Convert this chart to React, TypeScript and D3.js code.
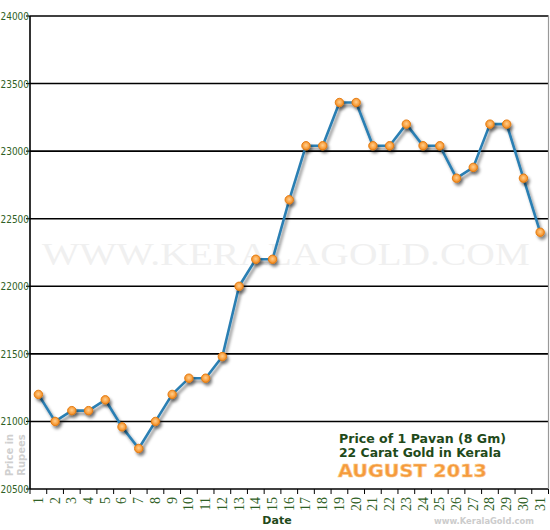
import React from "react";
import * as d3 from "d3";

const days: number[] = Array.from({ length: 31 }, (_, i) => i + 1);
const prices: number[] = [
  21200, 21000, 21080, 21080, 21160, 20960, 20800, 21000, 21200, 21320,
  21320, 21480, 22000, 22200, 22200, 22640, 23040, 23040, 23360, 23360,
  23040, 23040, 23200, 23040, 23040, 22800, 22880, 23200, 23200, 22800,
  22400,
];
const yTicks: number[] = [20500, 21000, 21500, 22000, 22500, 23000, 23500, 24000];
const titleLines: string[] = ["Price of 1 Pavan (8 Gm)", "22 Carat Gold in Kerala"];
const monthLabel = "AUGUST 2013";
const xTitle = "Date";
const yTitle: string[] = ["Price in", "Rupees"];
const watermark = "WWW.KERALAGOLD.COM";
const credit = "www.KeralaGold.com";

const W = 550;
const H = 530;
const left = 30;
const right = 548.5;
const top = 16;
const bottom = 489;

export default function App() {
  const x = d3.scaleBand<number>().domain(days).range([left, right]).padding(0);
  const y = d3.scaleLinear().domain([20500, 24000]).range([bottom, top]);
  const cx = (d: number) => (x(d) as number) + x.bandwidth() / 2;
  const line = d3
    .line<number>()
    .x((_, i) => cx(days[i]))
    .y((v) => y(v));
  const green = "#2f5f25";
  const boundaries = days.map((d) => x(d) as number).concat([right]);

  return (
    <svg
      width={W}
      height={H}
      style={{ position: "fixed", left: 0, top: 0, background: "#fff" }}
    >
      <defs>
        <filter id="sh" x="-10%" y="-10%" width="120%" height="130%">
          <feDropShadow dx="2" dy="3" stdDeviation="1.6" floodColor="#000" floodOpacity="0.45" />
        </filter>
        <radialGradient id="dot" cx="50%" cy="45%" r="60%">
          <stop offset="0%" stopColor="#ffd090" />
          <stop offset="60%" stopColor="#f9a040" />
          <stop offset="100%" stopColor="#ee8416" />
        </radialGradient>
      </defs>

      {/* watermark */}
      <text
        x={42}
        y={265}
        fontFamily="'Liberation Serif', 'DejaVu Serif', serif"
        fontSize={32}
        fill="#f0f0f0"
        textLength={488}
        lengthAdjust="spacingAndGlyphs"
      >
        {watermark}
      </text>

      {/* gridlines */}
      {yTicks.map((t) => (
        <g key={t}>
          <line x1={left} x2={right} y1={y(t)} y2={y(t)} stroke="#000" strokeWidth={1.6} />
          <line x1={left - 4} x2={left} y1={y(t)} y2={y(t)} stroke="#000" strokeWidth={1.2} />
          <text
            x={left - 1}
            y={y(t) + 4}
            textAnchor="end"
            fontFamily="'DejaVu Sans', Verdana, sans-serif"
            fontSize={10.5}
            fill={green}
            textLength={28.5}
            lengthAdjust="spacingAndGlyphs"
          >
            {t}
          </text>
        </g>
      ))}

      {/* axes */}
      <line x1={left} x2={left} y1={top} y2={bottom} stroke="#000" strokeWidth={1.6} />
      <line x1={right} x2={right} y1={top} y2={bottom} stroke="#999" strokeWidth={1.2} />
      {boundaries.map((b, i) => (
        <line key={i} x1={b} x2={b} y1={bottom} y2={bottom + 5} stroke="#000" strokeWidth={1} />
      ))}

      {/* x labels */}
      {days.map((d) => (
        <text
          key={d}
          transform={`translate(${cx(d) + 4.5},${bottom + 8}) rotate(-90)`}
          textAnchor="end"
          fontFamily="'Liberation Serif', 'Times New Roman', serif"
          fontSize={14}
          fill={green}
        >
          {d}
        </text>
      ))}

      {/* y title */}
      {yTitle.map((s, i) => (
        <text
          key={s}
          transform={`translate(${12.5 + i * 12},${455}) rotate(-90)`}
          textAnchor="middle"
          fontFamily="'DejaVu Sans', Verdana, sans-serif"
          fontWeight="bold"
          fontSize={10}
          fill="#cfcfcf"
        >
          {s}
        </text>
      ))}

      {/* series */}
      <path
        d={line(prices) || ""}
        fill="none"
        stroke="#2b7fb3"
        strokeWidth={2.6}
        strokeLinejoin="round"
        filter="url(#sh)"
      />
      <g filter="url(#sh)">
        {prices.map((v, i) => (
          <circle
            key={i}
            cx={cx(days[i])}
            cy={y(v)}
            r={4.2}
            fill="url(#dot)"
            stroke="#e47c12"
            strokeWidth={1}
          />
        ))}
      </g>

      {/* title block */}
      {titleLines.map((s, i) => (
        <text
          key={s}
          x={339}
          y={443 + i * 14}
          fontFamily="'DejaVu Sans', Verdana, sans-serif"
          fontWeight="bold"
          fontSize={12}
          fill="#1f4a1a"
          textLength={i === 0 ? 167 : 162}
          lengthAdjust="spacingAndGlyphs"
        >
          {s}
        </text>
      ))}
      <text
        x={338}
        y={477}
        fontFamily="'DejaVu Sans', Verdana, sans-serif"
        fontWeight="bold"
        fontSize={17}
        fill="#f59a3c"
        stroke="#fbc98a"
        strokeWidth={0.6}
        textLength={149}
        lengthAdjust="spacingAndGlyphs"
      >
        {monthLabel}
      </text>

      {/* x title */}
      <text
        x={277}
        y={524}
        textAnchor="middle"
        fontFamily="'DejaVu Sans', Verdana, sans-serif"
        fontWeight="bold"
        fontSize={11}
        fill="#1f4a1a"
      >
        {xTitle}
      </text>

      {/* credit */}
      <text
        x={434}
        y={524}
        fontFamily="'DejaVu Sans', Verdana, sans-serif"
        fontWeight="bold"
        fontSize={9}
        fill="#cccccc"
        textLength={100}
        lengthAdjust="spacingAndGlyphs"
      >
        {credit}
      </text>
    </svg>
  );
}
